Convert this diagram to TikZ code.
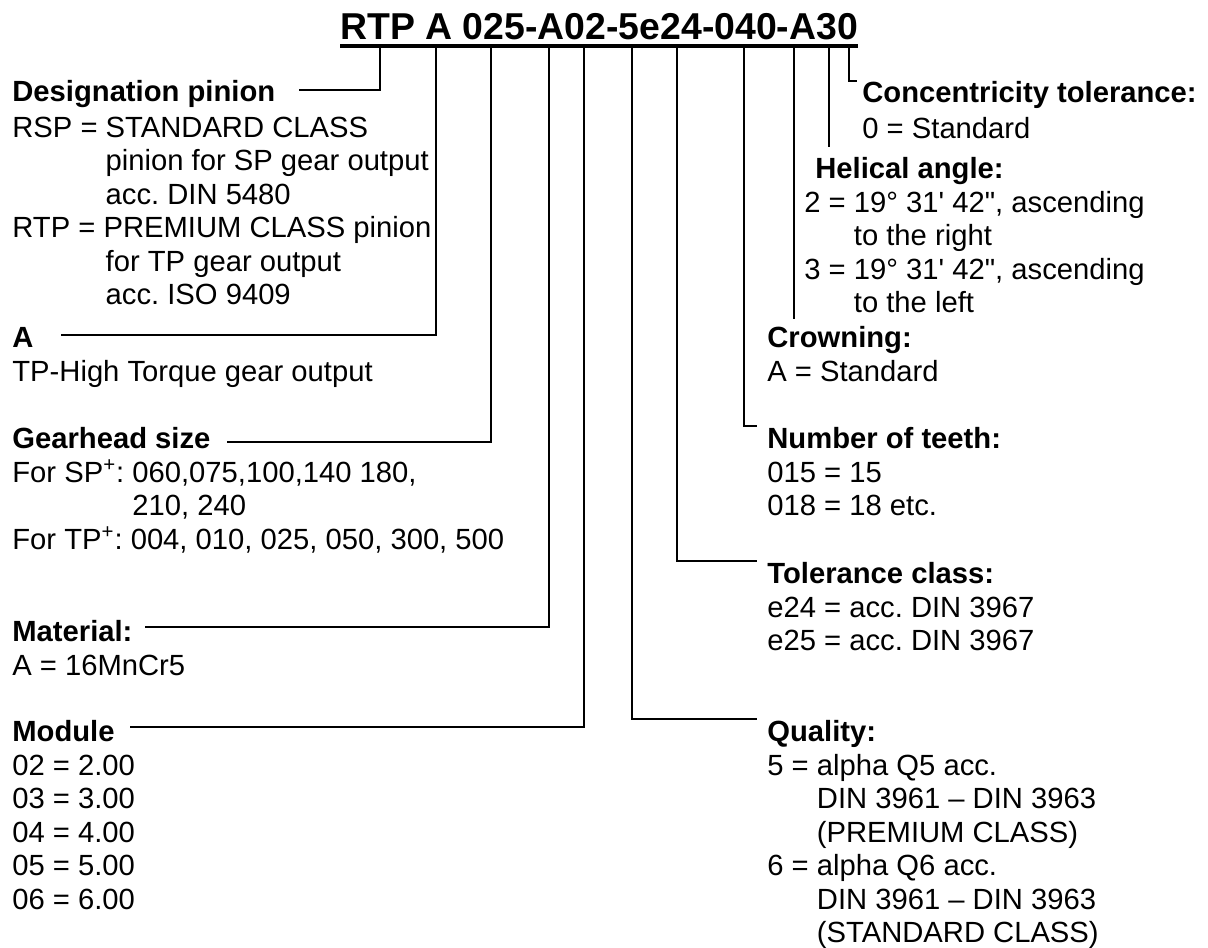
\documentclass[tikz,border=0pt]{standalone}
\usepackage{fontspec}
\setmainfont{Liberation Sans}[Ligatures=TeXOff]
\usetikzlibrary{calc}
\AtBeginDocument{\frenchspacing}
\newcommand{\rows}[1]{\begin{tabular}[t]{@{}l@{}}#1\end{tabular}}
\newcommand{\ind}[1]{\phantom{#1}}

\begin{document}
\begin{tikzpicture}[x=0.5pt, y=-0.5pt,
  font=\fontsize{14.6}{16.75}\selectfont,
  head/.style={font=\fontsize{14.6}{16.75}\selectfont\bfseries, inner sep=0pt, anchor=base west},
  body/.style={inner sep=0pt, anchor=base west},
  lead/.style={line width=1pt}]
  \useasboundingbox (0,0) rectangle (1208,947);
  % type code, underlined
  \node[head, font=\fontsize{18.7}{22}\selectfont\bfseries] (code) at (340,40) {RTP A 025-A02-5e24-040-A30};
  \draw[line width=1.9pt] ([yshift=-3pt]code.base west) -- ([yshift=-3pt]code.base east);
  % drop points under the code
  \foreach \n/\x in {dDes/380, dA/436, dGear/491, dMat/549, dMod/584, dQual/632,
                     dTol/677, dTeeth/744, dCrown/794, dHel/829, dConc/849}
    \coordinate (\n) at (\x,48);

  % left column
  \node[head] (hDes) at (12,102) {Designation pinion};
  \node[body] (bDes) at (12,137) {\rows{RSP = STANDARD CLASS\\
    \ind{RSP = }pinion for SP gear output\\
    \ind{RSP = }acc. DIN 5480\\
    RTP = PREMIUM CLASS pinion\\
    \ind{RSP = }for TP gear output\\
    \ind{RSP = }acc. ISO 9409}};
  \node[head] (hA) at (12,347) {A};
  \node[body] (bA) at (12,381) {TP-High Torque gear output};
  \node[head] (hGear) at (12,448) {Gearhead size};
  \node[body] (bGear) at (12,482) {\rows{For SP\textsuperscript{+}: 060,075,100,140 180,\\
    \ind{For SP\textsuperscript{+}: }210, 240\\
    For TP\textsuperscript{+}: 004, 010, 025, 050, 300, 500}};
  \node[head] (hMat) at (12,641) {Material:};
  \node[body] (bMat) at (12,675) {A = 16MnCr5};
  \node[head] (hMod) at (12,741) {Module};
  \node[body] (bMod) at (12,775) {\rows{02 = 2.00\\ 03 = 3.00\\ 04 = 4.00\\ 05 = 5.00\\ 06 = 6.00}};

  % right column
  \node[head] (hConc) at (862,103) {Concentricity tolerance:};
  \node[body] (bConc) at (862,138) {0 = Standard};
  \node[head] (hHel) at (815,178) {Helical angle:};
  \node[body] (bHel) at (804,212) {\rows{2 = 19° 31' 42", ascending\\
    \ind{2 = }to the right\\
    3 = 19° 31' 42", ascending\\
    \ind{3 = }to the left}};
  \node[head] (hCrown) at (767,347) {Crowning:};
  \node[body] (bCrown) at (767,381) {A = Standard};
  \node[head] (hTeeth) at (767,448) {Number of teeth:};
  \node[body] (bTeeth) at (767,482) {\rows{015 = 15\\ 018 = 18 etc.}};
  \node[head] (hTol) at (767,583) {Tolerance class:};
  \node[body] (bTol) at (767,617) {\rows{e24 = acc. DIN 3967\\ e25 = acc. DIN 3967}};
  \node[head] (hQual) at (767,741) {Quality:};
  \node[body] (bQual) at (767,775) {\rows{5 = alpha Q5 acc.\\
    \ind{5 = }DIN 3961 – DIN 3963\\
    \ind{5 = }(PREMIUM CLASS)\\
    6 = alpha Q6 acc.\\
    \ind{6 = }DIN 3961 – DIN 3963\\
    \ind{6 = }(STANDARD CLASS)}};

  % leader lines to the left
  \draw[lead] (dDes) |- ([shift={(23,-12)}]hDes.base east);
  \draw[lead] (dA) |- ([shift={(27,-12)}]hA.base east);
  \draw[lead] (dGear) |- ([shift={(16,-6)}]hGear.base east);
  \draw[lead] (dMat) |- ([shift={(12,-14)}]hMat.base east);
  \draw[lead] (dMod) |- ([shift={(15,-14)}]hMod.base east);
  % leader lines to the right
  \draw[lead] (dQual) |- ([xshift=-5pt]hQual.north west);
  \draw[lead] (dTol) |- ([xshift=-5pt]hTol.north west);
  \draw[lead] (dTeeth) |- ([xshift=-5pt]hTeeth.north west);
  \draw[lead] (dCrown) -- ($(dCrown |- hCrown.north)+(0,-6)$);
  \draw[lead] (dHel) -- ($(dHel |- hHel.north)+(0,-9)$);
  \draw[lead] (dConc) |- ([xshift=-2.5pt]hConc.north west);
\end{tikzpicture}
\end{document}
